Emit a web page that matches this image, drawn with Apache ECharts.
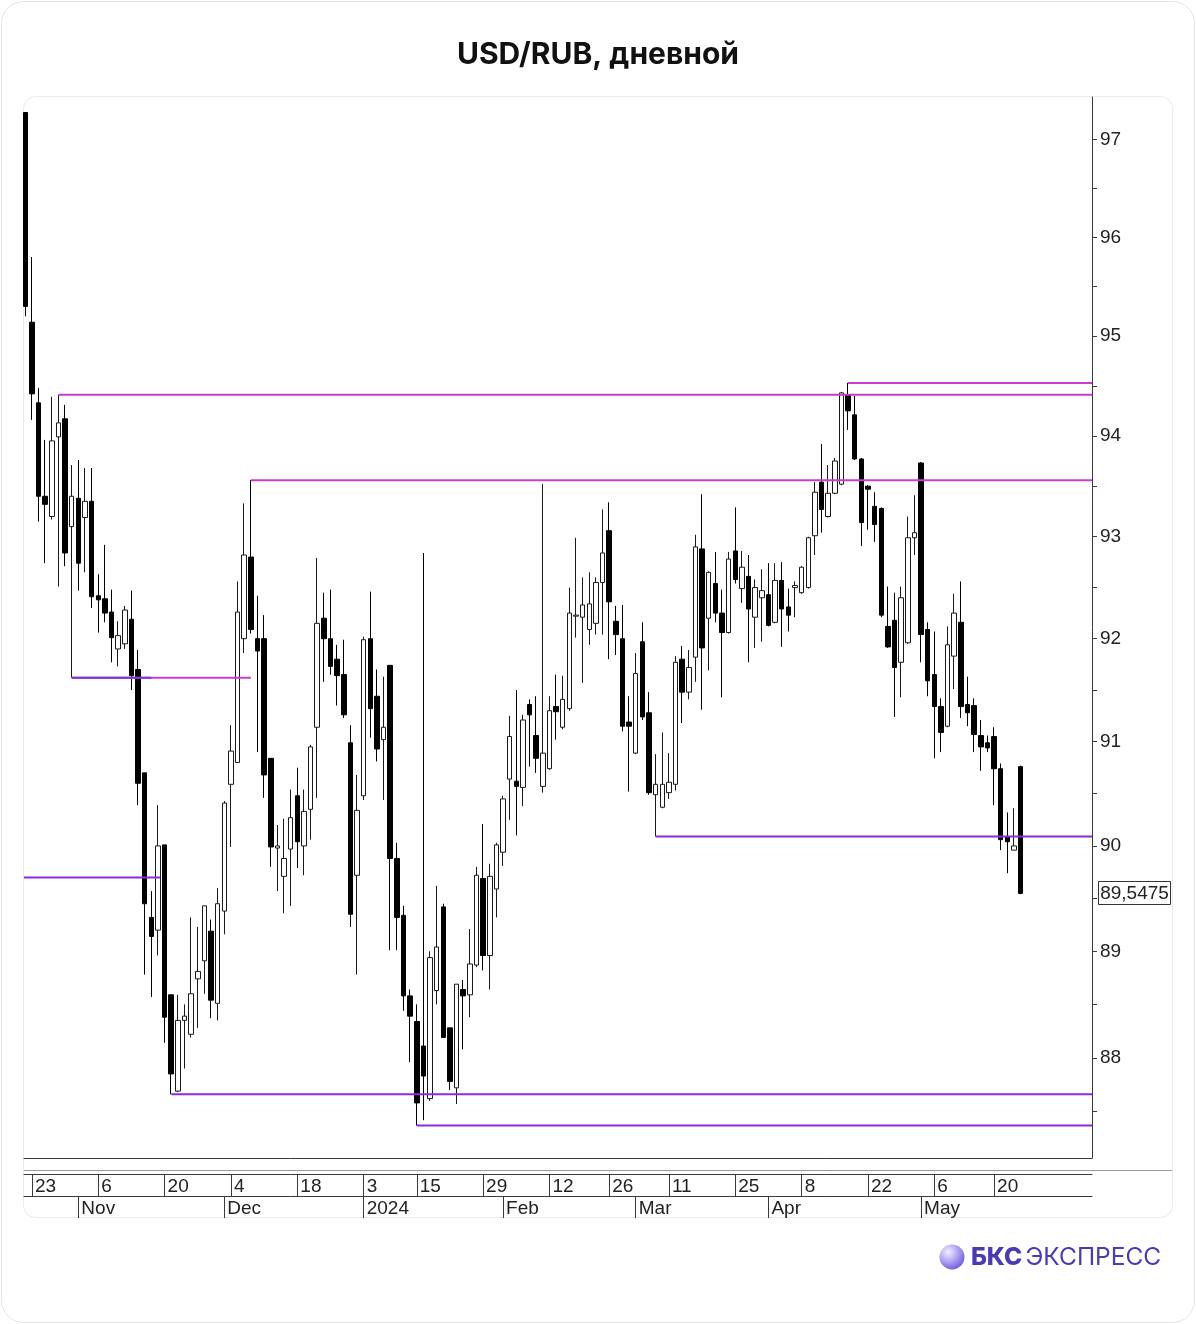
<!DOCTYPE html>
<html><head><meta charset="utf-8">
<script src="https://cdn.jsdelivr.net/npm/echarts@6/dist/echarts.min.js"></script>
<style>html,body{margin:0;padding:0;background:#fff;}#c{width:1196px;height:1324px;}</style>
</head><body><div id="c"></div>
<script>
// ---- data ----
const opens = [97.28,95.14,94.33,93.40,93.20,93.99,94.17,93.10,93.38,93.19, 93.35,92.42,92.39,92.26,91.90,91.95,92.19,91.70,90.70,89.32,
 89.20,90.01,88.59,87.69,88.35,88.22,88.74,88.91,89.19,88.51, 89.38,90.59,90.80,92.00,92.80,92.00,92.00,90.84,89.98,89.71,
 89.97,90.48,90.00,90.35,91.14,92.20,92.00,91.80,91.65,90.99, 89.72,90.48,92.00,91.44,91.02,91.74,89.88,89.34,88.58,88.34,
 88.11,87.62,88.63,89.42,88.28,87.72,88.64,88.59,88.87,89.69, 88.96,89.59,89.94,90.64,90.62,90.56,91.36,91.06,90.57,90.74,
 91.34,91.14,91.32,92.22,92.21,92.09,92.15,92.55,93.06,92.17, 92.00,91.19,90.89,91.97,91.28,90.49,90.37,90.51,90.59,91.80,
 91.48,91.82,92.88,92.20,92.54,92.25,92.06,92.86,92.49,92.61, 92.21,92.40,92.43,92.16,92.57,92.31,92.50,92.45,92.50,93.01,
 93.54,93.20,93.43,93.52,94.41,94.21,93.77,93.50,93.30,93.28, 92.12,92.18,91.77,91.96,92.99,93.73,92.09,91.65,91.34,91.15,
 91.83,92.16,91.36,91.35,91.06,90.99,91.05,90.74,90.09,89.96, 90.76];
const closes = [95.30,94.42,93.40,93.32,93.95,94.13,92.84,93.40,92.74,93.35, 92.41,92.38,92.25,92.01,92.03,92.28,91.64,90.60,89.45,89.14,
 90.00,88.38,87.85,88.35,88.39,88.60,88.81,89.43,88.54,89.45, 90.41,90.91,92.26,92.82,92.09,91.88,90.68,89.99,90.00,89.88,
 90.27,90.04,90.33,90.95,92.15,92.00,91.73,91.64,91.26,89.35, 90.34,91.99,91.32,90.93,91.14,89.88,89.32,88.58,88.39,87.58,
 87.83,88.94,89.04,88.19,87.78,88.69,88.58,88.88,89.72,88.96, 89.71,90.01,90.45,91.05,90.57,91.21,91.26,90.84,90.89,91.30,
 91.29,91.41,92.25,92.23,92.33,92.34,92.55,92.84,92.36,92.04, 91.15,91.15,91.66,91.24,90.51,90.59,90.59,90.61,91.77,91.48,
 91.72,92.90,91.91,92.65,92.25,92.06,92.78,92.58,92.70,92.29, 92.50,92.47,92.13,92.57,92.29,92.23,92.52,92.70,92.99,93.44,
 93.27,93.43,93.75,94.43,94.25,93.77,93.14,93.47,93.12,92.23, 91.92,91.72,92.40,92.99,93.04,92.04,91.59,91.34,91.09,91.94,
 92.25,91.34,91.28,91.07,90.95,90.94,90.74,90.06,90.04,90.00, 89.5475];
const lows = [95.20,94.16,93.15,92.74,93.17,92.51,92.71,91.62,92.47,92.65, 92.30,92.06,92.16,91.77,91.73,91.90,91.50,90.39,88.78,88.57,
 88.96,88.14,87.66,87.68,87.90,88.19,88.28,88.60,88.37,88.35, 89.16,89.99,90.80,91.86,92.05,90.90,90.46,89.80,89.57,89.36,
 89.43,89.79,89.72,90.06,90.46,91.58,91.65,91.35,91.23,89.23, 88.78,90.44,91.04,90.81,90.44,89.01,89.01,88.44,87.96,87.37,
 87.42,87.60,88.50,88.19,87.70,87.57,88.08,88.38,88.85,88.82, 88.64,89.32,89.81,90.25,90.10,90.38,90.76,90.70,90.51,90.73,
 91.02,91.12,91.30,92.01,91.57,91.94,92.04,92.04,91.80,91.84, 91.10,90.52,90.88,91.21,90.49,90.09,90.36,90.45,90.53,91.18,
 91.41,91.58,91.31,91.69,92.16,91.43,92.05,92.54,92.35,91.77, 91.91,91.97,92.12,92.15,91.92,92.07,92.21,92.44,92.49,92.82,
 93.04,93.19,93.42,93.51,94.06,93.76,92.91,93.07,92.95,92.21, 91.91,91.24,91.43,91.95,92.82,91.77,91.44,90.84,90.90,91.14,
 91.51,91.23,91.15,90.90,90.72,90.90,90.39,89.96,89.74,89.96, 89.54];
const highs = [97.28,95.80,94.48,93.96,94.39,94.41,94.31,93.71,93.76,93.68, 93.68,92.63,92.92,92.48,92.17,92.32,92.47,91.89,90.70,89.57,
 90.39,90.01,88.59,88.59,88.50,89.32,89.23,89.43,89.30,89.60, 90.43,91.16,92.56,93.33,93.56,92.42,92.23,90.84,90.20,90.26,
 90.54,90.75,90.54,90.97,92.79,92.45,92.48,91.94,91.99,91.16, 90.68,92.02,92.46,91.70,91.63,91.74,90.03,89.43,88.64,88.50,
 92.84,89.00,89.62,89.45,88.28,88.69,88.73,89.21,89.80,90.21, 89.83,90.03,90.48,91.25,91.50,91.26,91.41,91.44,93.52,91.44,
 91.65,91.64,92.50,92.99,92.60,92.65,92.60,93.27,93.34,92.32, 92.33,91.44,91.86,92.16,91.48,90.88,91.09,90.89,91.83,91.93,
 91.89,93.02,93.42,92.66,92.85,92.48,92.85,93.29,92.86,92.82, 92.58,92.68,92.74,92.74,92.75,92.49,92.56,92.71,93.00,93.54,
 93.92,93.71,93.78,94.44,94.53,94.40,93.78,93.51,93.44,93.29, 92.51,92.45,92.51,93.20,93.41,93.74,92.16,92.07,91.42,92.12,
 92.44,92.56,91.63,91.42,91.21,91.06,91.14,90.79,90.32,90.36, 90.77];

const priceTicks = [88, 89, 90, 91, 92, 93, 94, 95, 96, 97];
const dayTickIdx = [1, 11, 21, 31, 41, 51, 59, 69, 79, 88, 97, 107, 117, 127, 137, 146];
const dayTickLabels = ['23','6','20','4','18','3','15','29','12','26','11','25','8','22','6','20'];
const monthTickIdx = [8, 30, 51, 72, 92, 112, 135];
const monthTickLabels = ['Nov','Dec','2024','Feb','Mar','Apr','May'];

// horizontal levels: price, first candle index, last candle index (null = chart edge)
const resistLevels = [94.41, 94.53, 93.56, 91.62];
const resistFrom   = [5, 124, 34, 7];
const resistTo     = [null, null, null, 34];
const supportLevels = [91.62, 89.70, 90.09, 87.66, 87.37];
const supportFrom   = [7, null, 95, 22, 59];
const supportTo     = [19, 20.3, null, null, null];
const lastPrice = 89.5475;

// ---- chart ----
const X_MIN = -0.19, X_MAX = 160.76;
const P_MIN = 87.07, P_MAX = 97.44;
const ln = Math.log;
const halfTicks = [];
for (let p = 87.5; p <= 97.01; p += 0.5) halfTicks.push(ln(p));

const candleData = opens.map((o, i) => [i, ln(o), ln(closes[i]), ln(lows[i]), ln(highs[i])]);

function levelSeries(levels, from, to, color) {
  return levels.map((p, k) => ({
    type: 'line', xAxisIndex: 0, yAxisIndex: 0, silent: true, animation: false,
    symbol: 'none', z: 5,
    lineStyle: { color: color, width: 2 },
    data: [[from[k] == null ? X_MIN : from[k], ln(p)], [to[k] == null ? X_MAX : to[k], ln(p)]]
  }));
}

const AX = '#3a3a3a';
const labelFont = { fontFamily: 'Liberation Sans', fontSize: 19, color: '#222' };

const chart = echarts.init(document.getElementById('c'), null, { renderer: 'canvas' });

const baseGraphic = [
  { id: 'outer', type: 'rect', z: -20, silent: true,
    shape: { x: 1.5, y: 1.5, width: 1193, height: 1321, r: 22 },
    style: { fill: '#fff', stroke: '#e4e4e4', lineWidth: 1 } },
  { id: 'inner', type: 'rect', z: -19, silent: true,
    shape: { x: 23.5, y: 96.5, width: 1149, height: 1121, r: 12 },
    style: { fill: '#fff', stroke: '#ebebeb', lineWidth: 1 } },
  { id: 'sep', type: 'line', z: 1, silent: true,
    shape: { x1: 24, y1: 1170.5, x2: 1172, y2: 1170.5 },
    style: { stroke: '#9a9a9a', lineWidth: 1 } },
  { id: 'logoBall', type: 'circle', silent: true,
    shape: { cx: 952, cy: 1257, r: 12.5 },
    style: { fill: new echarts.graphic.RadialGradient(0.35, 0.3, 0.85, [
      { offset: 0, color: '#f2efff' }, { offset: 0.45, color: '#b1a4f2' }, { offset: 1, color: '#5b48d2' }]) } },
  { id: 'logoText', type: 'text', silent: true, x: 971, y: 1258,
    style: { text: '{b|БКС} {r|ЭКСПРЕСС}', verticalAlign: 'middle', align: 'left',
      rich: { b: { fontFamily: 'Inter', fontWeight: 800, fontSize: 24.5, fill: '#4a3cae', color: '#4a3cae' },
              r: { fontFamily: 'Inter', fontWeight: 400, fontSize: 24.5, fill: '#4a3cae', color: '#4a3cae' } } } }
];

const option = {
  animation: false,
  backgroundColor: 'transparent',
  title: { text: 'USD/RUB, дневной', left: 'center', top: 35,
    textStyle: { fontFamily: 'Inter', fontWeight: 700, fontSize: 30, color: '#111' } },
  grid: { left: 24, right: 104, top: 97, bottom: 166, containLabel: false },
  xAxis: [
    { type: 'value', min: X_MIN, max: X_MAX, position: 'bottom', offset: 0,
      axisLine: { show: true, onZero: false, lineStyle: { color: AX, width: 1 } },
      axisTick: { show: false }, axisLabel: { show: false }, splitLine: { show: false } },
    { type: 'value', min: X_MIN, max: X_MAX, position: 'bottom', offset: 16,
      axisLine: { show: true, onZero: false, lineStyle: { color: AX, width: 1 } },
      axisTick: { show: true, customValues: dayTickIdx, length: 22, lineStyle: { color: AX } },
      axisLabel: Object.assign({ show: true, customValues: dayTickIdx, align: 'left', margin: 3,
        padding: [0, 0, 0, 3],
        formatter: v => dayTickLabels[dayTickIdx.indexOf(Math.round(v))] || '' }, labelFont),
      splitLine: { show: false } },
    { type: 'value', min: X_MIN, max: X_MAX, position: 'bottom', offset: 38,
      axisLine: { show: true, onZero: false, lineStyle: { color: AX, width: 1 } },
      axisTick: { show: true, customValues: monthTickIdx, length: 22, lineStyle: { color: AX } },
      axisLabel: Object.assign({ show: true, customValues: monthTickIdx, align: 'left', margin: 3,
        padding: [0, 0, 0, 3],
        formatter: v => monthTickLabels[monthTickIdx.indexOf(Math.round(v))] || '' }, labelFont),
      splitLine: { show: false } }
  ],
  yAxis: {
    type: 'value', position: 'right', min: ln(P_MIN), max: ln(P_MAX), scale: true,
    axisLine: { show: true, onZero: false, lineStyle: { color: AX, width: 1 } },
    axisTick: { show: true, inside: false, customValues: halfTicks, length: 5, lineStyle: { color: AX } },
    axisLabel: Object.assign({ show: true, customValues: priceTicks.map(ln), margin: 8,
      formatter: v => String(Math.round(Math.exp(v))) }, labelFont),
    splitLine: { show: false }
  },
  series: [
    { type: 'candlestick', xAxisIndex: 0, yAxisIndex: 0, data: candleData,
      encode: { x: 0, y: [1, 2, 3, 4] },
      barWidth: 5, z: 2,
      itemStyle: { color: '#ffffff', color0: '#000000', borderColor: '#1a1a1a', borderColor0: '#000000', borderWidth: 1 } }
  ].concat(levelSeries(supportLevels.slice(1), supportFrom.slice(1), supportTo.slice(1), '#8a2be2'))
   .concat(levelSeries(resistLevels, resistFrom, resistTo, '#c63fcc'))
   .concat(levelSeries(supportLevels.slice(0, 1), supportFrom.slice(0, 1), supportTo.slice(0, 1), '#7a36d0')),
  graphic: baseGraphic
};
chart.setOption(option);

const py = chart.convertToPixel({ yAxisIndex: 0 }, ln(lastPrice));
chart.setOption({ graphic: baseGraphic.concat([
  { id: 'pbox', type: 'rect', silent: true, z: 10,
    shape: { x: 1098.5, y: Math.round(py) - 11.5, width: 72, height: 23 },
    style: { fill: '#fff', stroke: '#333', lineWidth: 1 } },
  { id: 'ptext', type: 'text', silent: true, z: 11, x: 1134.5, y: Math.round(py) + 0.5,
    style: { text: lastPrice.toFixed(4).replace('.', ','), align: 'center', verticalAlign: 'middle',
      font: '19px "Liberation Sans"', fill: '#222' } }
]) });
</script>
</body></html>
